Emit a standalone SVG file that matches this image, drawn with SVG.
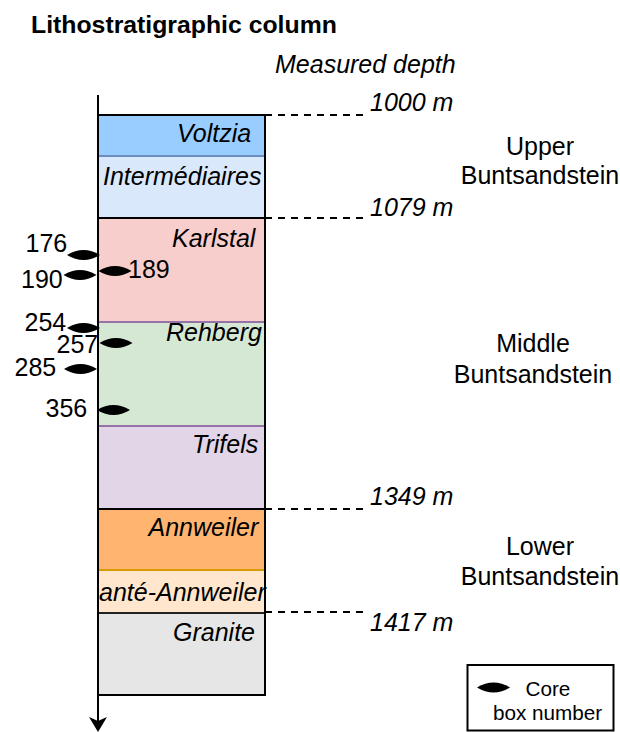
<svg xmlns="http://www.w3.org/2000/svg" xmlns:xlink="http://www.w3.org/1999/xlink" width="620" height="732" viewBox="0 0 620 732">
<style>
text{font-family:"Liberation Sans",Arial,Helvetica,sans-serif;font-size:25px;fill:#000}
.it{font-style:italic}
.title{font-weight:bold;font-size:24.8px}
.leg{font-size:20.7px}
.dash{stroke:#000;stroke-width:1.8;stroke-dasharray:7 6;fill:none}
.sep{stroke-width:2;fill:none}
</style>
<defs>
<path id="core" d="M-16.5,0 Q0,-10 16.5,0 Q0,10 -16.5,0 Z" fill="#000"/>
</defs>
<rect width="620" height="732" fill="#fff"/>
<text class="title" x="31" y="33">Lithostratigraphic column</text>
<text class="it" x="275" y="73">Measured depth</text>

<g id="layers">
<g id="voltzia"><rect x="98" y="115" width="167" height="41" fill="#99ccff"/><text class="it" x="177" y="142">Voltzia</text></g>
<g id="intermediaires"><rect x="98" y="156" width="167" height="62" fill="#dae8fc"/><text class="it" x="103" y="185">Intermédiaires</text></g>
<g id="karlstal"><rect x="98" y="218" width="167" height="104" fill="#f8cecc"/><text class="it" x="172" y="246.5">Karlstal</text></g>
<g id="rehberg"><rect x="98" y="322" width="167" height="104" fill="#d5e8d4"/><text class="it" x="166" y="340.5">Rehberg</text></g>
<g id="trifels"><rect x="98" y="426" width="167" height="83" fill="#e1d5e7"/><text class="it" x="192" y="453">Trifels</text></g>
<g id="annweiler"><rect x="98" y="509" width="167" height="61" fill="#ffb570"/><text class="it" x="148.5" y="536">Annweiler</text></g>
<g id="ante-annweiler"><rect x="98" y="570" width="167" height="43" fill="#ffe6cc"/><text class="it" x="99" y="601">anté-Annweiler</text></g>
<g id="granite"><rect x="98" y="613" width="167" height="82" fill="#e6e6e6"/><text class="it" x="173" y="640.5">Granite</text></g>
<line class="sep" x1="98" y1="156" x2="265" y2="156" stroke="#6c8ebf"/>
<line class="sep" x1="98" y1="322" x2="265" y2="322" stroke="#9673a6"/>
<line class="sep" x1="98" y1="426" x2="265" y2="426" stroke="#9673a6"/>
<line class="sep" x1="98" y1="570" x2="265" y2="570" stroke="#d79b00"/>
<line class="sep" x1="98" y1="218" x2="265" y2="218" stroke="#000"/>
<line class="sep" x1="98" y1="509" x2="265" y2="509" stroke="#000"/>
<line class="sep" x1="98" y1="613" x2="265" y2="613" stroke="#222"/>
<rect x="98" y="115" width="167" height="580" fill="none" stroke="#000" stroke-width="2"/>
</g>

<g id="connectors">
<line x1="98" y1="95" x2="98" y2="722" stroke="#000" stroke-width="2"/>
<path d="M98,732 L89,717 L98,721 L107,717 Z" fill="#000"/>
<line class="dash" x1="265" y1="115" x2="368" y2="115"/>
<line class="dash" x1="265" y1="218" x2="368" y2="218"/>
<line class="dash" x1="265" y1="509" x2="368" y2="509"/>
<line class="dash" x1="265" y1="612" x2="368" y2="612"/>
</g>

<g id="depths">
<text class="it" x="370" y="111">1000 m</text>
<text class="it" x="370" y="216">1079 m</text>
<text class="it" x="370" y="505">1349 m</text>
<text class="it" x="370" y="631">1417 m</text>
</g>

<g id="units" text-anchor="middle">
<text x="540" y="155">Upper</text><text x="540" y="184">Buntsandstein</text>
<text x="533" y="352">Middle</text><text x="533" y="383">Buntsandstein</text>
<text x="540" y="555">Lower</text><text x="540" y="585">Buntsandstein</text>
</g>

<g id="cores">
<use xlink:href="#core" x="83.5" y="255"/><text x="25.5" y="252">176</text>
<use xlink:href="#core" x="80" y="275"/><text x="21" y="288">190</text>
<use xlink:href="#core" x="115" y="271"/><text x="128" y="278">189</text>
<use xlink:href="#core" x="83.5" y="328"/><text x="24.5" y="330.5">254</text>
<use xlink:href="#core" x="116" y="343"/><text x="56.5" y="353">257</text>
<use xlink:href="#core" x="80.5" y="369"/><text x="14.5" y="376">285</text>
<use xlink:href="#core" x="113.5" y="410"/><text x="45.5" y="416.5">356</text>
</g>

<g id="legend">
<rect x="467.5" y="665" width="146" height="65.5" fill="#fff" stroke="#000" stroke-width="2"/>
<use xlink:href="#core" x="493.5" y="687.5"/>
<text class="leg" x="525.5" y="695.5">Core</text>
<text class="leg" x="493" y="720">box number</text>
</g>
</svg>
